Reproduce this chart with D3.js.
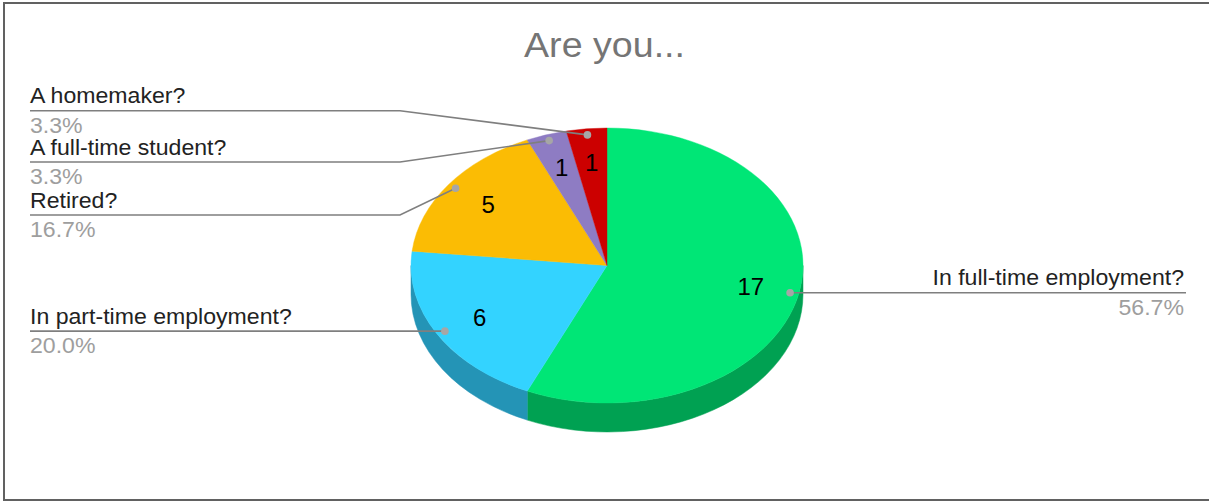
<!DOCTYPE html>
<html>
<head>
<meta charset="utf-8">
<script src="https://cdn.jsdelivr.net/npm/d3@7/dist/d3.min.js"></script>
<style>
  html, body { margin: 0; padding: 0; background: #fff; }
  svg { display: block; }
</style>
</head>
<body>
<svg id="chart" width="1209" height="502"></svg>
<script>
// ---- data ----
const title = "Are you...";
const categories = ["In full-time employment?", "In part-time employment?", "Retired?", "A full-time student?", "A homemaker?"];
const values = [17, 6, 5, 1, 1];
const topColors = ["#00e676", "#33d3ff", "#fbbc04", "#8e7cc3", "#cc0000"];
const sideColors = ["#00a152", "#2494b6", "#b08302", "#63578a", "#8f0000"];

// ---- layout ----
const W = 1209, H = 502;
const cx = 607, cy = 265.5, rx = 196, ry = 137.5, depth = 29;
const labelFont = "'Liberation Sans', Arial, sans-serif";
// label placement: side, line y (null = at the dot)
const labelLayout = [
  { side: "right", lineY: null },
  { side: "left", lineY: null },
  { side: "left", lineY: 215 },
  { side: "left", lineY: 162 },
  { side: "left", lineY: 110.7 }
];
const leftX = 30, elbowX = 400, rightX = 1186;

const svg = d3.select("#chart");

// frame
svg.append("rect").attr("x", 4).attr("y", 3).attr("width", 1215).attr("height", 497)
  .attr("fill", "#fff").attr("stroke", "#616161").attr("stroke-width", 2);

// title
const tsx = 1.075;
svg.append("text")
  .attr("transform", `translate(604.5,57) scale(${tsx},1)`)
  .attr("text-anchor", "middle")
  .attr("font-family", labelFont).attr("font-size", 35).attr("fill", "#757575")
  .text(title);

const total = d3.sum(values);
const data = categories.map((c, i) => ({ name: c, value: values[i], i }));
const pie = d3.pie().value(d => d.value).sort(null).startAngle(0).endAngle(2 * Math.PI);
const arcs = pie(data);

// point on the ellipse at angle a (clockwise from 12 o'clock), fraction f of radius
const pt = (a, f = 1, dy = 0) => [cx + rx * f * Math.sin(a), cy - ry * f * Math.cos(a) + dy];

// ---- sides (visible lower half: angles PI/2 .. 3PI/2) ----
const sideG = svg.append("g");
arcs.forEach(d => {
  const a0 = Math.max(d.startAngle, Math.PI / 2);
  const a1 = Math.min(d.endAngle, 3 * Math.PI / 2);
  if (a1 <= a0) return;
  const p0 = pt(a0), p1 = pt(a1);
  const b0 = pt(a0, 1, depth), b1 = pt(a1, 1, depth);
  const large = (a1 - a0) > Math.PI ? 1 : 0;
  const path = `M${p0[0]},${p0[1]} A${rx},${ry} 0 ${large} 1 ${p1[0]},${p1[1]} ` +
    `L${b1[0]},${b1[1]} A${rx},${ry} 0 ${large} 0 ${b0[0]},${b0[1]} Z`;
  sideG.append("path").attr("d", path).attr("fill", sideColors[d.data.i])
    .attr("stroke", sideColors[d.data.i]).attr("stroke-width", 0.5);
});

// ---- top face ----
const arcGen = d3.arc().innerRadius(0).outerRadius(rx);
const topG = svg.append("g").attr("transform", `translate(${cx},${cy}) scale(1,${ry / rx})`);
topG.selectAll("path").data(arcs).join("path")
  .attr("d", arcGen)
  .attr("fill", d => topColors[d.data.i])
  .attr("stroke", d => topColors[d.data.i]).attr("stroke-width", 0.5);

// ---- value labels inside slices ----
arcs.forEach(d => {
  const m = (d.startAngle + d.endAngle) / 2;
  const p = pt(m, 0.75);
  svg.append("text")
    .attr("x", p[0]).attr("y", p[1] + 8.5)
    .attr("text-anchor", "middle")
    .attr("font-family", labelFont).attr("font-size", 24).attr("fill", "#000")
    .text(d.data.value);
});

// ---- leader lines and outside labels ----
const lsx = 1.05;
const leaderG = svg.append("g");
arcs.forEach(d => {
  const m = (d.startAngle + d.endAngle) / 2;
  const dot = pt(m, 0.955);
  const lay = labelLayout[d.data.i];
  const ly = lay.lineY == null ? dot[1] : lay.lineY;
  let pts;
  if (lay.side === "right") {
    pts = [dot, [rightX, ly]];
  } else if (lay.lineY == null) {
    pts = [dot, [leftX, ly]];
  } else {
    pts = [dot, [elbowX, ly], [leftX, ly]];
  }
  leaderG.append("path").attr("d", d3.line()(pts))
    .attr("fill", "none").attr("stroke", "#7f7f7f").attr("stroke-width", 1.6);
  leaderG.append("circle").attr("cx", dot[0]).attr("cy", dot[1]).attr("r", 3.8)
    .attr("fill", "#a6a6a6");

  const tx = lay.side === "right" ? 1184 : leftX;
  const anchor = lay.side === "right" ? "end" : "start";
  svg.append("text")
    .attr("transform", `translate(${tx},${ly - 7.5}) scale(${lsx},1)`)
    .attr("text-anchor", anchor)
    .attr("font-family", labelFont).attr("font-size", 22).attr("fill", "#222")
    .text(d.data.name);
  svg.append("text")
    .attr("transform", `translate(${tx},${ly + 22}) scale(${lsx},1)`)
    .attr("text-anchor", anchor)
    .attr("font-family", labelFont).attr("font-size", 22).attr("fill", "#9e9e9e")
    .text((d.data.value / total * 100).toFixed(1) + "%");
});
</script>
</body>
</html>
